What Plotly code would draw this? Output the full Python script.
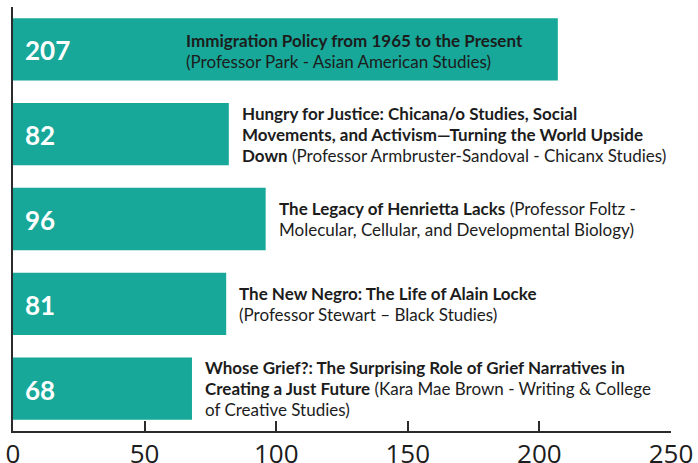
import plotly.graph_objects as go

courses = [
    "Immigration Policy",
    "Hungry for Justice",
    "Henrietta Lacks",
    "The New Negro",
    "Whose Grief?",
]
enrollment = [207, 82, 96, 81, 68]
label_lines = [
    ["<b>Immigration Policy from 1965 to the Present</b>",
     "(Professor Park - Asian American Studies)"],
    ["<b>Hungry for Justice: Chicana/o Studies, Social</b>",
     "<b>Movements, and Activism\u2014Turning the World Upside</b>",
     "<b>Down</b> (Professor Armbruster-Sandoval - Chicanx Studies)"],
    ["<b>The Legacy of Henrietta Lacks</b> (Professor Foltz -",
     "Molecular, Cellular, and Developmental Biology)"],
    ["<b>The New Negro: The Life of Alain Locke</b>",
     "(Professor Stewart \u2013 Black Studies)"],
    ["<b>Whose Grief?: The Surprising Role of Grief Narratives in</b>",
     "<b>Creating a Just Future</b> (Kara Mae Brown - Writing & College",
     "of Creative Studies)"],
]
x_ticks = [0, 50, 100, 150, 200, 250]

BAR = "rgb(23,168,153)"
AX = "#2b2b2b"
TXT = "#1c1c1c"

fig = go.Figure(go.Bar(
    y=courses, x=enrollment, orientation="h",
    marker=dict(color=BAR, line=dict(width=0)),
    hoverinfo="skip",
))

annotations = []
LINE = 21
for cat, val, lines in zip(courses, enrollment, label_lines):
    # value label inside the bar, at its left end
    annotations.append(dict(
        x=0, y=cat, xref="x", yref="y", text="<b>%d</b>" % val, showarrow=False,
        xanchor="left", yanchor="middle", xshift=10, yshift=-1,
        font=dict(family="Lato, Open Sans, sans-serif", size=26, color="white"),
    ))
    if val > 150:
        ax, xs = 65, 0
    else:
        ax, xs = val, 11
    n = len(lines)
    for i, ln in enumerate(lines):
        off = ((n - 1) / 2 - i) * LINE
        annotations.append(dict(
            x=ax, y=cat, xref="x", yref="y", text=ln, showarrow=False,
            xanchor="left", yanchor="middle", xshift=xs,
            yshift=off - (2 if val > 150 else 0),
            font=dict(family="Lato, Open Sans, sans-serif", size=17, color=TXT),
        ))

fig.update_layout(
    width=698, height=463,
    margin=dict(l=13, r=27, t=7, b=32, autoexpand=False),
    paper_bgcolor="white", plot_bgcolor="white",
    bargap=0.265,
    showlegend=False,
    annotations=annotations,
)
fig.update_xaxes(
    range=[0, 250], tickvals=x_ticks, ticktext=[str(t) for t in x_ticks],
    showgrid=False, zeroline=False, automargin=False,
    showline=True, linecolor=AX, linewidth=2,
    ticks="inside", ticklen=10, tickwidth=2, tickcolor=AX,
    tickfont=dict(family="Open Sans, sans-serif", size=26, color=TXT),
    ticklabelstandoff=-1,
    fixedrange=True,
)
fig.update_yaxes(
    autorange="reversed", showticklabels=False, showgrid=False, zeroline=False,
    showline=True, linecolor=AX, linewidth=2, ticks="", automargin=False,
    fixedrange=True,
)

fig.write_html("out.html",
               config={"displayModeBar": False},
               post_script="document.body.style.margin='0';document.body.style.overflow='hidden';")
